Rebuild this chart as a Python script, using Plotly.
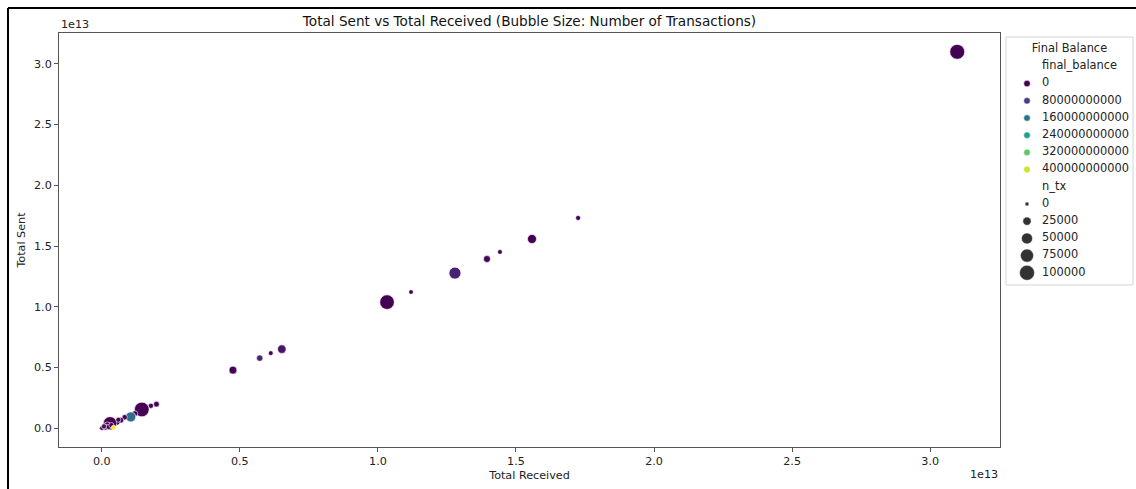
import numpy as np
import plotly.graph_objects as go

# ---- data -------------------------------------------------------------
total_received = [
    3.098e13, 1.725e13, 1.558e13, 1.442e13, 1.395e13, 1.279e13, 1.120e13,
    1.033e13, 0.652e13, 0.612e13, 0.572e13, 0.475e13,
    0.198e13, 0.178e13, 0.145e13, 0.120e13, 0.105e13, 0.083e13, 0.069e13,
    0.055e13, 0.030e13, 0.020e13, 0.012e13, 0.003e13, 0.000e13, 0.008e13,
    0.025e13, 0.035e13, 0.060e13, 0.043e13,
]
total_sent = [
    3.099e13, 1.731e13, 1.558e13, 1.451e13, 1.393e13, 1.277e13, 1.121e13,
    1.038e13, 0.651e13, 0.618e13, 0.577e13, 0.478e13,
    0.198e13, 0.184e13, 0.154e13, 0.120e13, 0.093e13, 0.090e13, 0.066e13,
    0.050e13, 0.040e13, 0.020e13, 0.008e13, 0.001e13, 0.000e13, 0.015e13,
    0.010e13, 0.025e13, 0.070e13, 0.005e13,
]
n_tx = [
    98000, 4000, 31000, 3000, 15000, 60000, 2500,
    94000, 27000, 3000, 12000, 22000,
    8000, 5000, 95000, 8000, 40000, 6000, 8000,
    10000, 78000, 20000, 10000, 3000, 1000, 5000,
    4000, 5000, 4000, 3000,
]
final_balance = [
    0, 0, 0, 0, 0, 4.0e10, 0,
    0, 2.5e10, 0, 4.5e10, 0,
    0, 0, 0, 0, 1.5e11, 0, 0,
    0, 0, 0, 0, 0, 0, 2.0e10,
    0, 0, 0, 4.3e11,
]

x_ticks = [0, 0.5e13, 1.0e13, 1.5e13, 2.0e13, 2.5e13, 3.0e13]
x_tick_labels = ["0.0", "0.5", "1.0", "1.5", "2.0", "2.5", "3.0"]
y_ticks = [0, 0.5e13, 1.0e13, 1.5e13, 2.0e13, 2.5e13, 3.0e13]
y_tick_labels = ["0.0", "0.5", "1.0", "1.5", "2.0", "2.5", "3.0"]

balance_legend = [0, 80000000000, 160000000000, 240000000000, 320000000000, 400000000000]
ntx_legend = [0, 25000, 50000, 75000, 100000]

# ---- styling helpers ---------------------------------------------------
FONT = "DejaVu Sans"
D_MIN, D_MAX, N_REF = 4.0, 15.0, 100000.0


def bubble_px(n):
    """Area-proportional bubble diameter (px) for a transaction count."""
    n = np.asarray(n, dtype=float)
    return np.sqrt(D_MIN ** 2 + (D_MAX ** 2 - D_MIN ** 2) * n / N_REF)


def padded_range(vals, frac=0.05):
    lo, hi = min(vals), max(vals)
    pad = (hi - lo) * frac
    return [lo - pad, hi + pad]


bal_max = max(final_balance)

W, H = 1136, 489
ML, MR, MT, MB = 59, 3, 33, 42
PW, PH = W - ML - MR, H - MT - MB


def px_x(p):
    return (p - ML) / PW


def px_y(p):
    return (H - MB - p) / PH


fig = go.Figure()

# main bubbles
fig.add_trace(go.Scatter(
    x=total_received, y=total_sent, mode="markers",
    marker=dict(
        size=bubble_px(n_tx), color=final_balance, colorscale="Viridis",
        cmin=0, cmax=bal_max, opacity=1,
        line=dict(color="white", width=0.6),
    ),
    xaxis="x", yaxis="y", showlegend=False, hoverinfo="skip",
))

# ---- legend panel drawn on its own axes --------------------------------
ROW0, ROW_STEP = 12.2, 17.2


def row(i):
    return ROW0 + ROW_STEP * i


hue_rows = [row(2 + i) for i in range(len(balance_legend))]
size_rows = [row(9 + i) for i in range(len(ntx_legend))]

fig.add_trace(go.Scatter(
    x=[21] * len(balance_legend), y=hue_rows, mode="markers",
    marker=dict(size=6.5, color=balance_legend, colorscale="Viridis",
                cmin=0, cmax=bal_max, opacity=1,
                line=dict(color="white", width=0.5)),
    xaxis="x2", yaxis="y2", showlegend=False, hoverinfo="skip",
))
fig.add_trace(go.Scatter(
    x=[21] * len(ntx_legend), y=size_rows, mode="markers",
    marker=dict(size=bubble_px(ntx_legend), color="#333333", opacity=1,
                line=dict(color="white", width=0.5)),
    xaxis="x2", yaxis="y2", showlegend=False, hoverinfo="skip",
))

labels = (["final_balance"] + [str(v) for v in balance_legend]
          + ["n_tx"] + [str(v) for v in ntx_legend])
label_rows = [row(1)] + hue_rows + [row(8)] + size_rows
fig.add_trace(go.Scatter(
    x=[36] * len(labels), y=label_rows, mode="text", text=labels,
    textposition="middle right",
    textfont=dict(family=FONT, size=11.4, color="#222"),
    xaxis="x2", yaxis="y2", showlegend=False, hoverinfo="skip",
))
fig.add_trace(go.Scatter(
    x=[63.5], y=[row(0)], mode="text", text=["Final Balance"],
    textposition="middle center",
    textfont=dict(family=FONT, size=11.4, color="#222"),
    xaxis="x2", yaxis="y2", showlegend=False, hoverinfo="skip",
))

axis_common = dict(
    showgrid=False, zeroline=False, showline=True, mirror=True,
    linecolor="#555", linewidth=1, ticks="outside", ticklen=4,
    tickcolor="#555", tickwidth=1, automargin=False,
    tickfont=dict(family=FONT, size=11.2, color="#222"),
)

fig.update_layout(
    width=W, height=H, autosize=False,
    margin=dict(l=ML, r=MR, t=MT, b=MB, pad=0),
    paper_bgcolor="white", plot_bgcolor="white",
    font=dict(family=FONT, color="#222"),
    title=dict(
        text="Total Sent vs Total Received (Bubble Size: Number of Transactions)",
        x=px_x((ML + 1000) / 2), xref="paper", xanchor="center",
        y=1 - 21 / H, yref="container", yanchor="middle",
        font=dict(family=FONT, size=13.6, color="#111"),
    ),
    xaxis=dict(
        domain=[0, px_x(1000)], range=padded_range(total_received),
        tickvals=x_ticks, ticktext=x_tick_labels, anchor="y",
        title=dict(text="Total Received", standoff=3,
                   font=dict(family=FONT, size=11.2, color="#222")),
        **axis_common,
    ),
    yaxis=dict(
        domain=[0, 1], range=padded_range(total_sent),
        tickvals=y_ticks, ticktext=y_tick_labels, anchor="x",
        title=dict(text="Total Sent", standoff=6,
                   font=dict(family=FONT, size=11.2, color="#222")),
        **axis_common,
    ),
    xaxis2=dict(domain=[px_x(1006), px_x(1133)], range=[0, 127],
                visible=False, anchor="y2", fixedrange=True),
    yaxis2=dict(domain=[px_y(285), px_y(37)], range=[248, 0],
                visible=False, anchor="x2", fixedrange=True),
    shapes=[
        # legend frame
        dict(type="rect", xref="paper", yref="paper",
             x0=px_x(1006), x1=px_x(1133), y0=px_y(285), y1=px_y(37),
             line=dict(color="#d4d4d4", width=1), fillcolor="rgba(0,0,0,0)",
             layer="below"),
        # outer frame edges
        dict(type="line", xref="paper", yref="paper",
             x0=px_x(8), x1=px_x(8), y0=px_y(H + 2), y1=px_y(8),
             line=dict(color="black", width=2)),
        dict(type="line", xref="paper", yref="paper",
             x0=px_x(8), x1=px_x(W + 2), y0=px_y(8), y1=px_y(8),
             line=dict(color="black", width=2)),
    ],
    annotations=[
        dict(text="1e13", xref="paper", yref="paper", x=px_x(59), y=px_y(25),
             xanchor="left", yanchor="middle", showarrow=False,
             font=dict(family=FONT, size=11.2, color="#222")),
        dict(text="1e13", xref="paper", yref="paper", x=px_x(1000), y=px_y(474),
             xanchor="right", yanchor="middle", showarrow=False,
             font=dict(family=FONT, size=11.2, color="#222")),
    ],
)

fig.write_html("out.html")
